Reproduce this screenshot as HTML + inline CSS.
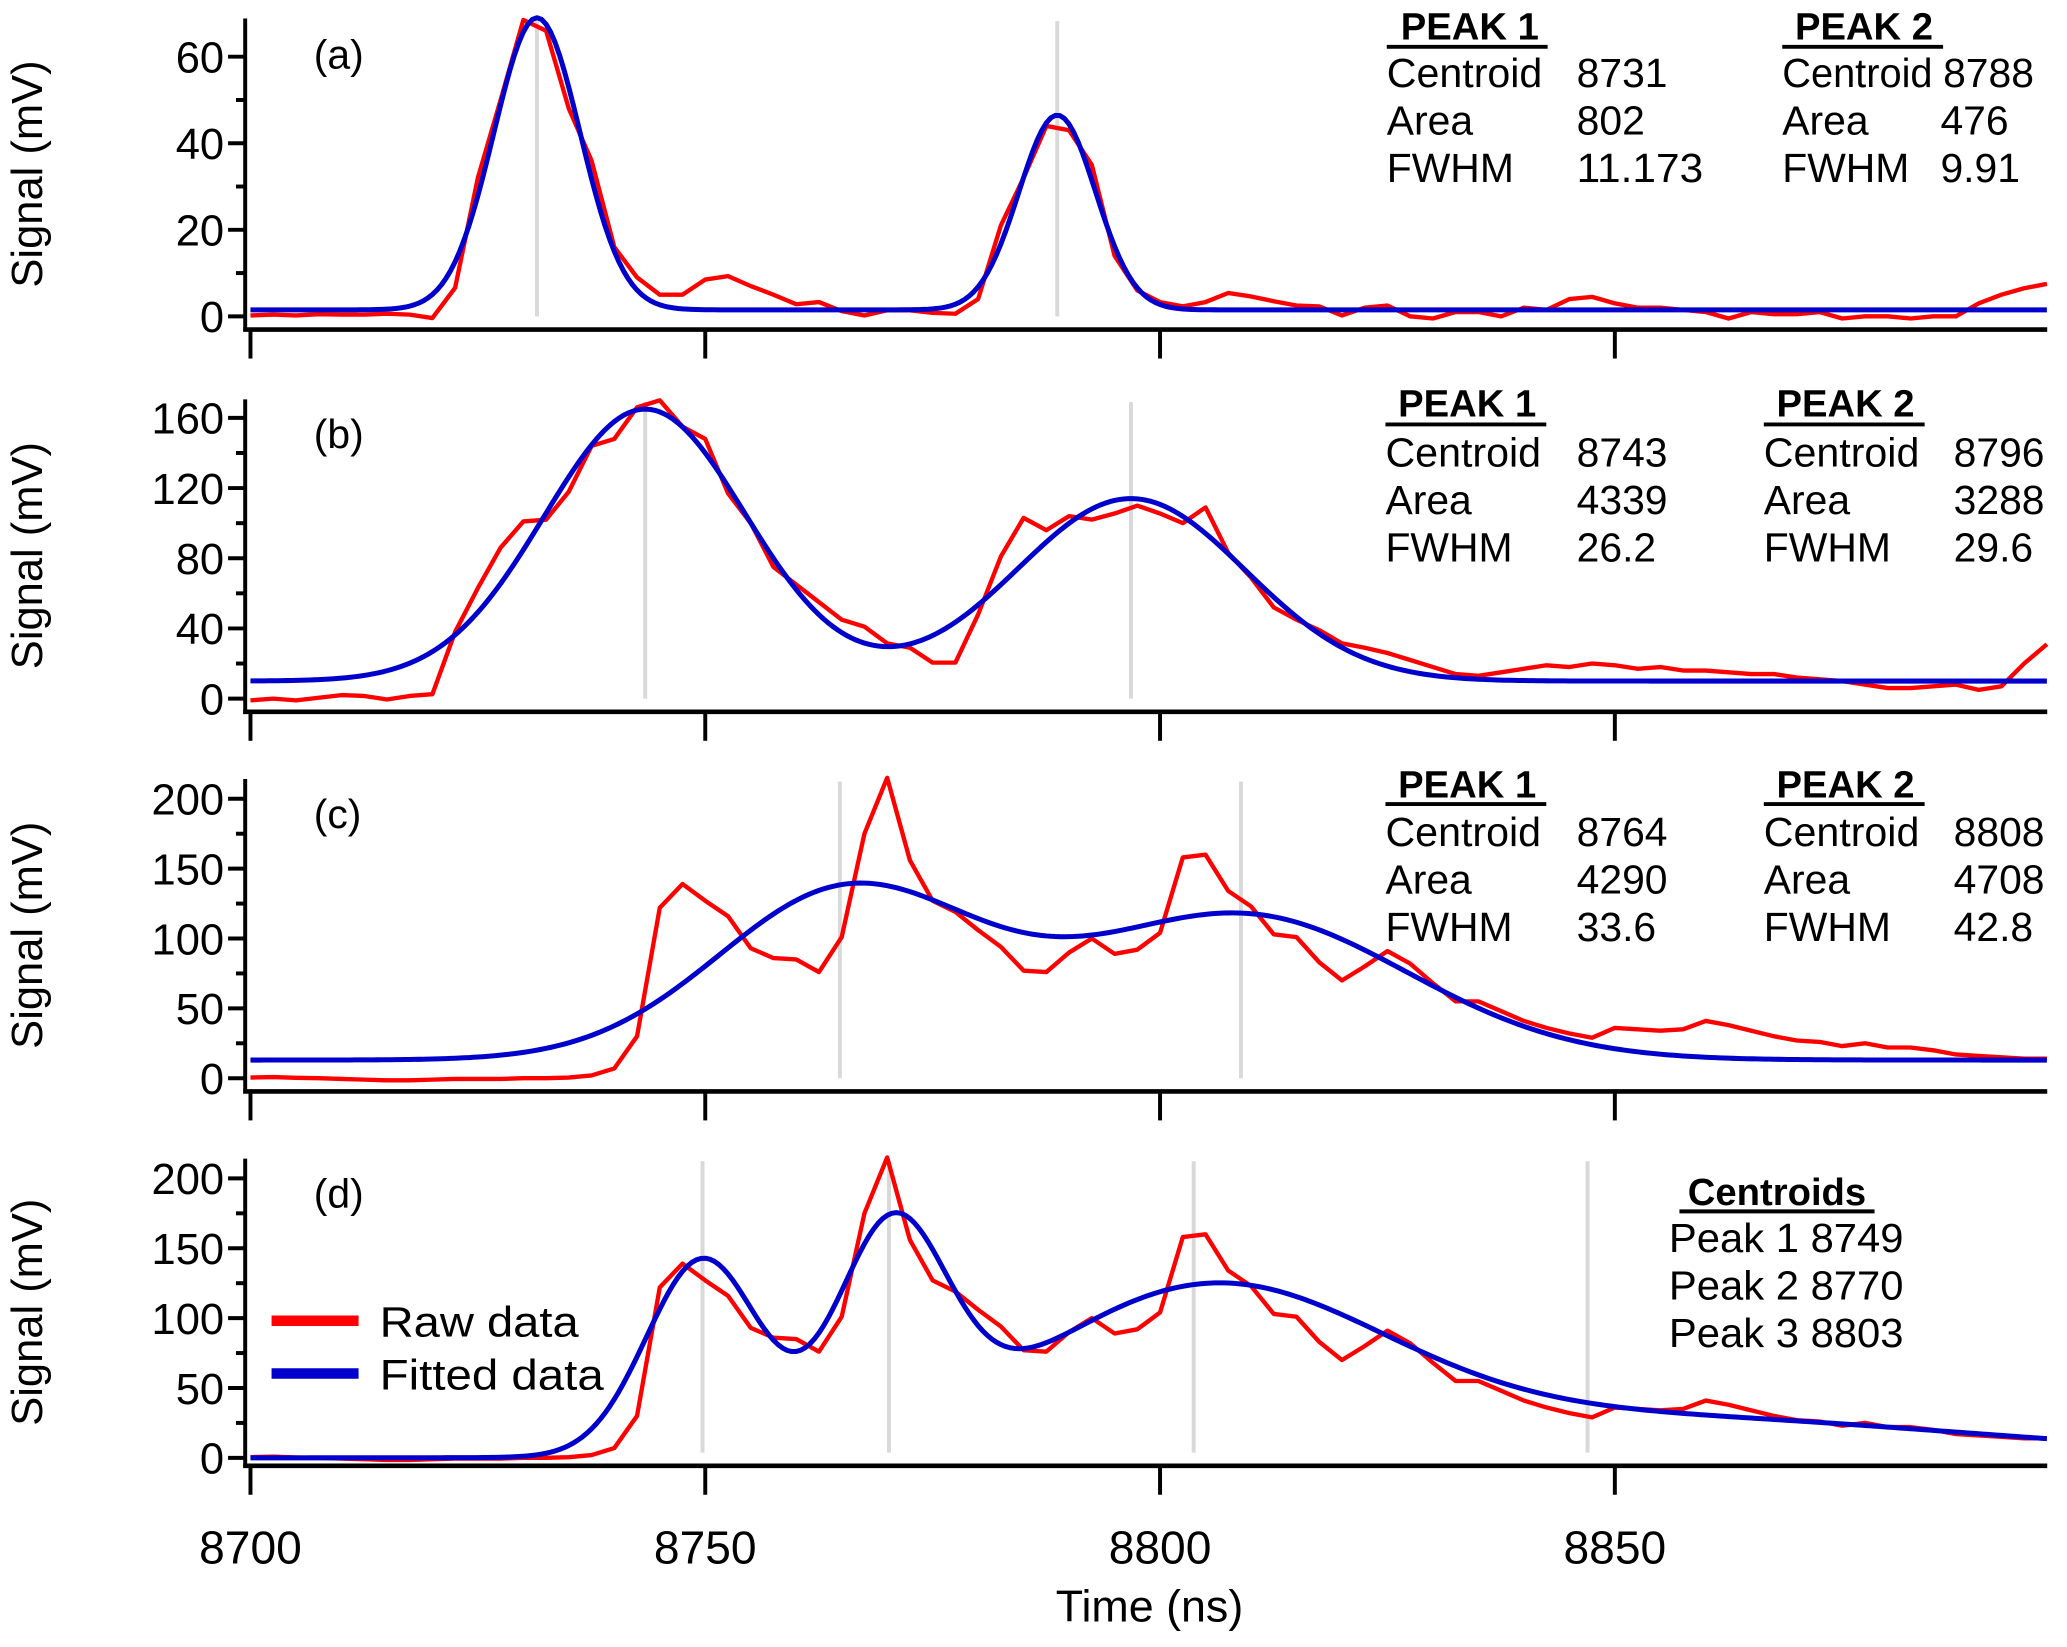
<!DOCTYPE html>
<html><head><meta charset="utf-8"><style>
html,body{margin:0;padding:0;background:#fff;}
svg{display:block;font-family:"Liberation Sans",Arial,sans-serif;}
</style></head><body>
<svg id="chart" width="2067" height="1647" viewBox="0 0 1568 1249.5" preserveAspectRatio="none" xmlns="http://www.w3.org/2000/svg">
<rect x="0" y="0" width="1568" height="1249.5" fill="#fff"/>
<g id="grid"></g>
<g id="marks"></g>
<g id="axes"></g>
<g id="texts" font-size="31" fill="#000">
  <text x="238" y="52">(a)</text>
  <text x="238" y="340">(b)</text>
  <text x="238" y="628">(c)</text>
  <text x="238" y="916">(d)</text>

  <g>
    <text x="1115" y="30" text-anchor="middle" font-weight="bold" font-size="29">PEAK 1</text>
    <line x1="1052" y1="35.5" x2="1174" y2="35.5" stroke="#000" stroke-width="3"/>
    <text x="1052" y="66" textLength="118" lengthAdjust="spacingAndGlyphs">Centroid</text><text x="1196" y="66">8731</text>
    <text x="1052" y="102">Area</text><text x="1196" y="102">802</text>
    <text x="1052" y="138">FWHM</text><text x="1196" y="138" textLength="96" lengthAdjust="spacingAndGlyphs">11.173</text>
    <text x="1414" y="30" text-anchor="middle" font-weight="bold" font-size="29">PEAK 2</text>
    <line x1="1352" y1="35.5" x2="1474" y2="35.5" stroke="#000" stroke-width="3"/>
    <text x="1352" y="66" textLength="114" lengthAdjust="spacingAndGlyphs">Centroid</text><text x="1474" y="66">8788</text>
    <text x="1352" y="102">Area</text><text x="1472" y="102">476</text>
    <text x="1352" y="138">FWHM</text><text x="1472" y="138">9.91</text>
  </g>
  <g>
    <text x="1113" y="316" text-anchor="middle" font-weight="bold" font-size="29">PEAK 1</text>
    <line x1="1051" y1="322" x2="1173" y2="322" stroke="#000" stroke-width="3"/>
    <text x="1051" y="354" textLength="118" lengthAdjust="spacingAndGlyphs">Centroid</text><text x="1196" y="354">8743</text>
    <text x="1051" y="390">Area</text><text x="1196" y="390">4339</text>
    <text x="1051" y="426">FWHM</text><text x="1196" y="426">26.2</text>
    <text x="1400" y="316" text-anchor="middle" font-weight="bold" font-size="29">PEAK 2</text>
    <line x1="1338" y1="322" x2="1460" y2="322" stroke="#000" stroke-width="3"/>
    <text x="1338" y="354" textLength="118" lengthAdjust="spacingAndGlyphs">Centroid</text><text x="1482" y="354">8796</text>
    <text x="1338" y="390">Area</text><text x="1482" y="390">3288</text>
    <text x="1338" y="426">FWHM</text><text x="1482" y="426">29.6</text>
  </g>
  <g>
    <text x="1113" y="605" text-anchor="middle" font-weight="bold" font-size="29">PEAK 1</text>
    <line x1="1051" y1="610" x2="1173" y2="610" stroke="#000" stroke-width="3"/>
    <text x="1051" y="642" textLength="118" lengthAdjust="spacingAndGlyphs">Centroid</text><text x="1196" y="642">8764</text>
    <text x="1051" y="678">Area</text><text x="1196" y="678">4290</text>
    <text x="1051" y="714">FWHM</text><text x="1196" y="714">33.6</text>
    <text x="1400" y="605" text-anchor="middle" font-weight="bold" font-size="29">PEAK 2</text>
    <line x1="1338" y1="610" x2="1460" y2="610" stroke="#000" stroke-width="3"/>
    <text x="1338" y="642" textLength="118" lengthAdjust="spacingAndGlyphs">Centroid</text><text x="1482" y="642">8808</text>
    <text x="1338" y="678">Area</text><text x="1482" y="678">4708</text>
    <text x="1338" y="714">FWHM</text><text x="1482" y="714">42.8</text>
  </g>
  <g>
    <text x="1348" y="914" text-anchor="middle" font-weight="bold" font-size="29">Centroids</text>
    <line x1="1274" y1="919" x2="1422" y2="919" stroke="#000" stroke-width="3"/>
    <text x="1266" y="950" textLength="178" lengthAdjust="spacingAndGlyphs">Peak 1 8749</text>
    <text x="1266" y="986" textLength="178" lengthAdjust="spacingAndGlyphs">Peak 2 8770</text>
    <text x="1266" y="1022" textLength="178" lengthAdjust="spacingAndGlyphs">Peak 3 8803</text>
  </g>

  <g>
    <line x1="206" y1="1002" x2="272" y2="1002" stroke="#ff0000" stroke-width="8"/>
    <text x="288" y="1014" font-size="32" textLength="151" lengthAdjust="spacingAndGlyphs">Raw data</text>
    <line x1="206" y1="1042" x2="272" y2="1042" stroke="#0000cc" stroke-width="8"/>
    <text x="288" y="1054" font-size="32" textLength="170" lengthAdjust="spacingAndGlyphs">Fitted data</text>
  </g>
  <text x="872" y="1230" text-anchor="middle" font-size="34">Time (ns)</text>
</g>
</svg>
<script>
// ---- shared x data ----
const t0 = 8700;
const dt = 2.5;
const xTicks = [8700, 8750, 8800, 8850];
const xTickLabels = ["8700", "8750", "8800", "8850"];

// ---- raw data (mV) sampled every 2.5 ns from 8700 ----
const rawA = [0.2,0.4,0.2,0.5,0.4,0.4,0.6,0.4,-0.4,6.6,32,50,68.5,66,48,36,16,9,5,5,8.5,9.3,7,5,2.8,3.3,1.2,0.2,1.4,1.4,0.8,0.6,4,21,32,44,43,35,14,6,3.3,2.3,3.3,5.4,4.6,3.5,2.5,2.3,0.2,
  2,2.5,0,-0.5,1,1,0,2,1.5,4,4.5,3,2,2,1.5,1,-0.5,1,0.5,0.5,1,-0.5,0,0,-0.5,0,0,3,5,6.5,7.5];
const rawB = [-1,0,-1,0.5,2,1.5,-0.5,1.5,2.5,38,63,86,101,102,118,144,148,166,170,155,148,117,100,75,65,55,45,41,31.5,29,20.5,20.5,48,81,103,96,104,102,105.5,110,105.5,100,109,83,69,52,45,39,31.5,
  29,26,22,18,14,13,15,17,19,18,20,19,17,18,16,16,15,14,14,12,11,10,8,6,6,7,8,5,7,20,31];
const rawC = [0.5,0.8,0.3,0,-0.5,-1,-1.5,-1.5,-1,-0.5,-0.5,-0.5,0,0,0.5,2,7,30,122,139,127,116,93,86,85,76,101,175,215,156,127,119,106,94,77,76,90,100,89,92,104,158,160,134,123,103,101,83,70,
  80,91,82,68,55,55,48,41,36,32,29,36,35,34,35,41,38,34,30,27,26,23,25,22,22,20,17,16,15,14,14];
const rawD = rawC.slice();

// ---- fitted peak parameters ----
const fitBaseA = 1.5, fitCentersA = [8731.5, 8788.7], fitAmpsA = [67.5, 45], fitSigmasA = [4.74, 4.21];
const fitBaseB = 10, fitCentersB = [8743.4, 8796.8], fitAmpsB = [155, 104], fitSigmasB = [11.1, 12.6];
const fitBaseC = 13, fitCentersC = [8765.5, 8808.9], fitAmpsC = [120, 104], fitSigmasC = [14.3, 18.2];
const fitBaseD = 0, fitCentersD = [8749.7, 8770.5, 8805, 8850], fitAmpsD = [140, 150, 110, 30], fitSigmasD = [6.2, 6, 19, 38];

// centroid marker lines
const centroidsA = [8731.5, 8788.7];
const centroidsB = [8743.4, 8796.8];
const centroidsC = [8764.8, 8808.9];
const centroidsD = [8749.7, 8770.2, 8803.7, 8847];

// y ticks
const yTicksA = [0,20,40,60], yMinorA = [10,30,50];
const yTicksB = [0,40,80,120,160], yMinorB = [20,60,100,140];
const yTicksC = [0,50,100,150,200], yMinorC = [25,75,125,175];
const yTicksD = [0,50,100,150,200], yMinorD = [25,75,125,175];

const NS = "http://www.w3.org/2000/svg";
const X0 = 190, KX = 6.9, AXL = 186, XR = 1553;
function sx(t){ return X0 + (t - t0) * KX; }

const panels = [
  {id:"a", raw:rawA, base:fitBaseA, c:fitCentersA, a:fitAmpsA, s:fitSigmasA, cen:centroidsA, yt:yTicksA, ym:yMinorA, y0:240, k:3.283, bot:250, top:14},
  {id:"b", raw:rawB, base:fitBaseB, c:fitCentersB, a:fitAmpsB, s:fitSigmasB, cen:centroidsB, yt:yTicksB, ym:yMinorB, y0:530, k:1.331, bot:540, top:303},
  {id:"c", raw:rawC, base:fitBaseC, c:fitCentersC, a:fitAmpsC, s:fitSigmasC, cen:centroidsC, yt:yTicksC, ym:yMinorC, y0:818, k:1.06, bot:828, top:591},
  {id:"d", raw:rawD, base:fitBaseD, c:fitCentersD, a:fitAmpsD, s:fitSigmasD, cen:centroidsD, yt:yTicksD, ym:yMinorD, y0:1106, k:1.06, bot:1112, top:879}
];

function mk(tag, attrs, parent){
  const e = document.createElementNS(NS, tag);
  for (const key in attrs) e.setAttribute(key, attrs[key]);
  parent.appendChild(e);
  return e;
}
const gGrid = document.getElementById("grid");
const gMarks = document.getElementById("marks");
const gAxes = document.getElementById("axes");

panels.forEach(p => {
  const sy = v => p.y0 - v * p.k;
  p.cen.forEach(c => {
    const l = mk("line", {x1:sx(c), x2:sx(c), y1:p.top + 2, y2:p.bot - 10, stroke:"#d9d9d9", "stroke-width":3}, gGrid);
    
    
  });
  const rp = p.raw.map((v, i) => sx(t0 + i * dt).toFixed(2) + "," + sy(v).toFixed(2)).join(" ");
  const raw = mk("polyline", {points:rp, fill:"none", stroke:"#ff0000", "stroke-width":3.3, "stroke-linejoin":"round"}, gMarks);
  
  
  const fp = [];
  const tEnd = t0 + (p.raw.length - 1) * dt;
  for (let t = t0; t <= tEnd + 1e-9; t += 0.5) {
    let v = p.base;
    for (let j = 0; j < p.c.length; j++) v += p.a[j] * Math.exp(-0.5 * Math.pow((t - p.c[j]) / p.s[j], 2));
    fp.push(sx(t).toFixed(2) + "," + sy(v).toFixed(2));
  }
  const fit = mk("polyline", {points:fp.join(" "), fill:"none", stroke:"#0000cc", "stroke-width":3.8, "stroke-linejoin":"round"}, gMarks);
  
  
  const ya = mk("line", {x1:AXL, x2:AXL, y1:p.top, y2:p.bot + 1.5, stroke:"#000", "stroke-width":3}, gAxes);
  
  
  const xa = mk("line", {x1:AXL - 1.5, x2:XR, y1:p.bot, y2:p.bot, stroke:"#000", "stroke-width":3.5}, gAxes);
  
  
  xTicks.forEach(t => {
    const tk = mk("line", {x1:sx(t), x2:sx(t), y1:p.bot, y2:p.bot + 22, stroke:"#000", "stroke-width":3}, gAxes);
    
    
  });
  p.yt.forEach(v => {
    const tk = mk("line", {x1:AXL - 13, x2:AXL, y1:sy(v), y2:sy(v), stroke:"#000", "stroke-width":3}, gAxes);
    
    
    const lb = mk("text", {x:AXL - 16, y:sy(v) + 12, "text-anchor":"end", "font-size":33}, gAxes);
    lb.textContent = String(v);
    
    
  });
  p.ym.forEach(v => {
    const tk = mk("line", {x1:AXL - 7, x2:AXL, y1:sy(v), y2:sy(v), stroke:"#000", "stroke-width":3}, gAxes);
    
    
  });
  const cy = (p.top + p.bot) / 2;
  const tt = mk("text", {x:0, y:0, "text-anchor":"middle", "font-size":33, transform:"translate(32," + cy + ") rotate(-90)"}, gAxes);
  tt.textContent = "Signal (mV)";
  
  
});
xTicks.forEach((t, i) => {
  const lb = mk("text", {x:sx(t), y:1186, "text-anchor":"middle", "font-size":35}, gAxes);
  lb.textContent = xTickLabels[i];
  
  
});
</script>
</body></html>
